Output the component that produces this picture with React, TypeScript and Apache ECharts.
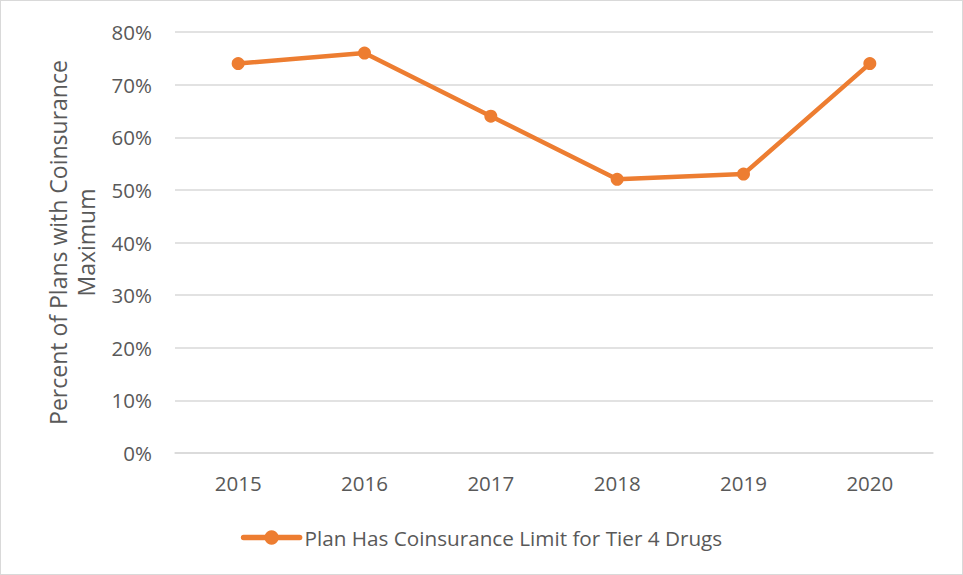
import React, { useEffect, useRef } from "react";
import * as echarts from "echarts";

const categories = ["2015", "2016", "2017", "2018", "2019", "2020"];
const values = [0.74, 0.76, 0.64, 0.52, 0.53, 0.74];
const seriesName = "Plan Has Coinsurance Limit for Tier 4 Drugs";
const yTitle = "Percent of Plans with Coinsurance\nMaximum";

export default function App() {
  const ref = useRef<HTMLDivElement>(null);
  useEffect(() => {
    if (!ref.current) return;
    const chart = echarts.init(ref.current, null, { renderer: "svg" });
    const font = "'Open Sans', sans-serif";
    chart.setOption({
      animation: false,
      backgroundColor: "#ffffff",
      textStyle: { fontFamily: font, color: "#595959" },
      grid: { left: 174, right: 29, top: 31, bottom: 121 },
      legend: {
        data: [seriesName],
        bottom: 21,
        left: "center",
        itemWidth: 56,
        itemHeight: 18,
        itemGap: 5,
        lineStyle: { width: 5.5, cap: "round" },
        textStyle: { fontSize: 20.7, color: "#595959", fontFamily: font },
      },
      xAxis: {
        type: "category",
        data: categories,
        boundaryGap: true,
        axisLine: { show: true, lineStyle: { color: "#d9d9d9", width: 1.5 } },
        axisTick: { show: false },
        axisLabel: { fontSize: 20.5, color: "#595959", margin: 19, fontFamily: font },
      },
      yAxis: {
        type: "value",
        min: 0,
        max: 0.8,
        interval: 0.1,
        name: yTitle,
        nameLocation: "middle",
        nameRotate: 90,
        nameGap: 75,
        nameTextStyle: { fontSize: 23, color: "#595959", fontFamily: font, lineHeight: 28 },
        axisLine: { show: false },
        axisTick: { show: false },
        splitLine: { lineStyle: { color: "#d9d9d9", width: 1.5 } },
        axisLabel: {
          fontSize: 20.5,
          color: "#595959",
          margin: 23,
          fontFamily: font,
          formatter: (v: number) => Math.round(v * 100) + "%",
        },
      },
      series: [
        {
          name: seriesName,
          type: "line",
          data: values,
          symbol: "circle",
          symbolSize: 13,
          lineStyle: { color: "#ED7D31", width: 4.5 },
          itemStyle: { color: "#ED7D31" },
        },
      ],
    });
    return () => chart.dispose();
  }, []);
  return (
    <div
      style={{
        position: "absolute",
        left: 0,
        top: 0,
        width: 963,
        height: 575,
        boxSizing: "border-box",
        border: "1.5px solid #d9d9d9",
        background: "#fff",
      }}
    >
      <div ref={ref} style={{ width: "100%", height: "100%" }} />
    </div>
  );
}
